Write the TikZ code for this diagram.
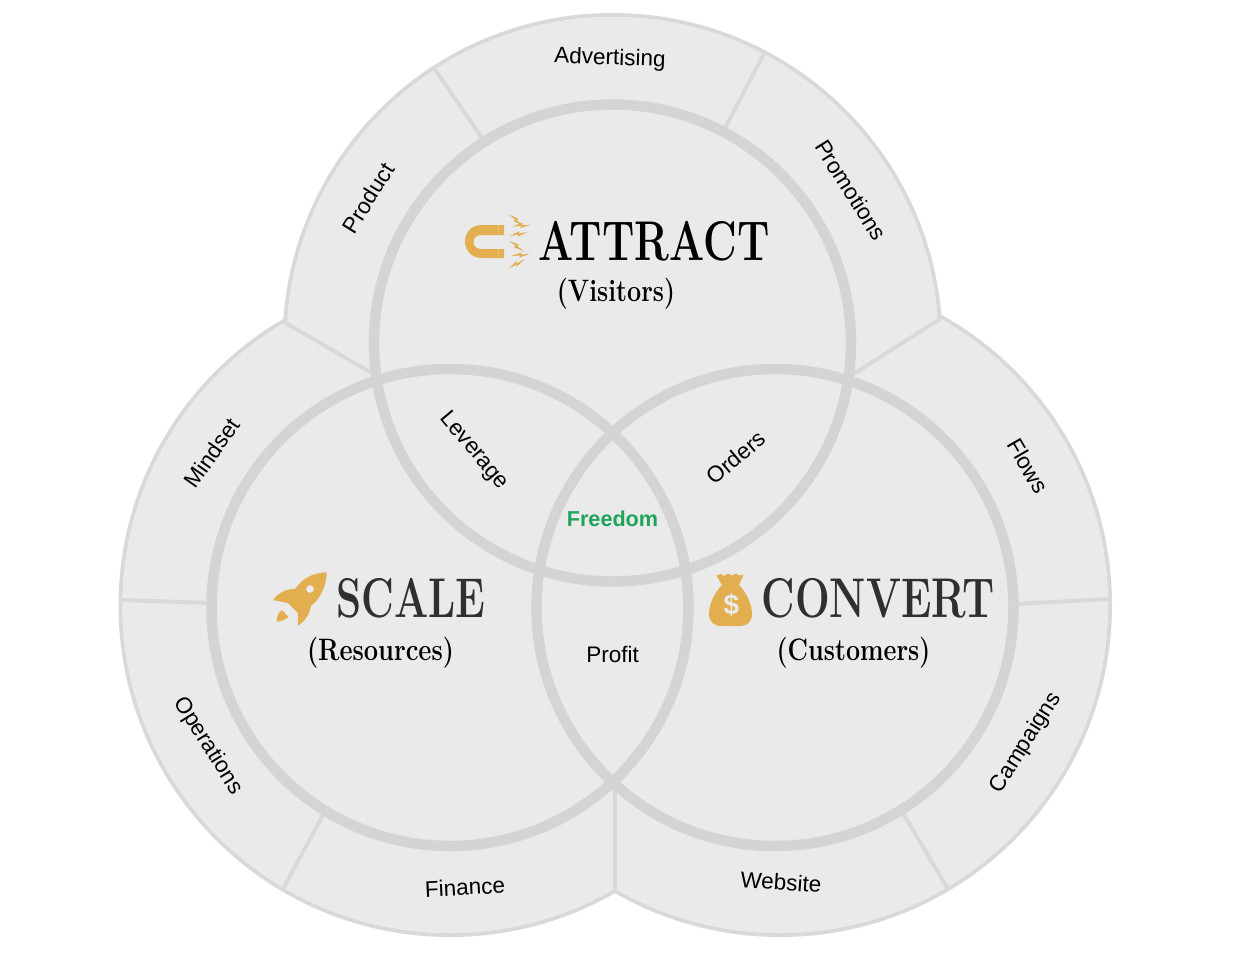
\documentclass[tikz,border=0pt]{standalone}
\usepackage{fontspec}
\setmainfont{Liberation Sans}
\newfontfamily\headfont{Latin Modern Roman}
\definecolor{discfill}{HTML}{EAEAEA}
\definecolor{outerline}{HTML}{D9D9D9}
\definecolor{innerline}{HTML}{D4D4D4}
\definecolor{gold}{HTML}{E3AE50}
\definecolor{goldlight}{HTML}{EBC27C}
\definecolor{headgrey}{HTML}{2F2F2F}
\definecolor{freedomgreen}{HTML}{1FA55B}
\tikzset{
  x=1pt,y=-1pt,
  innerring/.style={draw=innerline,line width=10.5pt},
  divider/.style={draw=outerline,line width=4pt},
  lab/.style={font=\fontsize{22.5}{26}\selectfont,inner sep=0pt,text=black},
  headlab/.style={font=\fontsize{56}{60}\headfont\bfseries,inner sep=0pt,anchor=base},
  sublab/.style={font=\fontsize{31}{34}\headfont\bfseries,inner sep=0pt,anchor=base,text=black},
  icon/.style={fill=gold,draw=none},
}
\newcommand{\boltat}[3]{%
  \fill[gold,shift={(#1,#2)},rotate=#3] (-9.5,-0.4)--(1.5,-2.4)--(0.5,-0.3)--(9.5,0.4)--(-1.5,2.4)--(-0.5,0.3)--cycle;}
\begin{document}
\begin{tikzpicture}
\useasboundingbox (0,0) rectangle (1250,966);
\fill[white] (0,0) rectangle (1250,966);
% centres of the inner rings
\coordinate (ct) at (612.5,343);
\coordinate (cl) at (450,607.5);
\coordinate (cr) at (775,607.5);
% centres of the outer lobes
\coordinate (ot) at (612.5,343);
\coordinate (ol) at (450,605.5);
\coordinate (or) at (780,605);
% outer union
\draw[outerline,line width=4pt] (ot) circle[radius=328];
\draw[outerline,line width=4pt] (ol) circle[radius=329.5];
\draw[outerline,line width=4pt] (or) circle[radius=330];
\fill[discfill] (ot) circle[radius=326];
\fill[discfill] (ol) circle[radius=327.5];
\fill[discfill] (or) circle[radius=328];
% dividers
\coordinate (d1a) at (284,322);  \coordinate (d1b) at (375,375);
\coordinate (d2a) at (940,319);  \coordinate (d2b) at (852,375);
\coordinate (d3a) at (121,600);  \coordinate (d3b) at (212,603);
\coordinate (d4a) at (1109,599); \coordinate (d4b) at (1015,604);
\coordinate (d5a) at (434,68);   \coordinate (d5b) at (482,138);
\coordinate (d6a) at (765,52);   \coordinate (d6b) at (725,128);
\coordinate (d7a) at (323,815);  \coordinate (d7b) at (283,889);
\coordinate (d8a) at (904,815);  \coordinate (d8b) at (948,889);
\coordinate (d9a) at (615,785);  \coordinate (d9b) at (615,891);
\foreach \i in {1,...,9}{\draw[divider] (d\i a) -- (d\i b);}
% inner rings
\foreach \c in {ct,cl,cr}{\draw[innerring] (\c) circle[radius=238.5];}
% segment labels
\node[lab,rotate=-2] (advertising) at (610,59) {Advertising};
\node[lab,rotate=58] (product) at (368,198) {Product};
\node[lab,rotate=-58] (promotions) at (851,190) {Promotions};
\node[lab,rotate=55] (mindset) at (212,453) {Mindset};
\node[lab,rotate=-60] (flows) at (1028,466) {Flows};
\node[lab,rotate=-58] (operations) at (208,746) {Operations};
\node[lab,rotate=58] (campaigns) at (1026,743) {Campaigns};
\node[lab,rotate=3] (finance) at (465,887) {Finance};
\node[lab,rotate=-4] (website) at (781,882) {Website};
\node[lab,rotate=-50] (leverage) at (474,451) {Leverage};
\node[lab,rotate=40] (orders) at (736,457) {Orders};
\node[lab] (profit) at (612.5,654) {Profit};
\node[lab,font=\fontsize{21.6}{26}\selectfont\bfseries,text=freedomgreen] (freedom) at (612.5,519) {Freedom};
% headings
\node[headlab,text=black,xscale=0.74] (attract) at (654,260) {ATTRACT};
\node[sublab,xscale=0.81] (visitors) at (616,301) {(Visitors)};
\node[headlab,text=headgrey,xscale=0.72] (scale) at (411,617) {SCALE};
\node[sublab,xscale=0.82] (resources) at (380.5,660) {(Resources)};
\node[headlab,text=headgrey,xscale=0.735] (convert) at (878,617) {CONVERT};
\node[sublab,xscale=0.81] (customers) at (853.5,660) {(Customers)};
% magnet
\fill[gold] (504,225) -- (482,225) .. controls (471,225) and (465,233) .. (465,241.5) .. controls (465,250) and (471,258) .. (482,258) -- (504,258) -- (504,249) -- (482,249) .. controls (476,249) and (473.5,246) .. (473.5,242) .. controls (473.5,238) and (476,235) .. (482,235) -- (504,235) -- cycle;
\fill[goldlight] (497.5,225) rectangle (499,235);
\fill[goldlight] (497.5,249) rectangle (499,258);
\boltat{516}{220}{-35}
\boltat{521.5}{225.5}{8}
\boltat{518.5}{234}{15}
\boltat{516.5}{246}{-32}
\boltat{520.5}{255}{10}
\boltat{516.5}{264}{33}
% rocket
\fill[icon,even odd rule] (326.7,572.3) .. controls (316,572.5) and (308,576) .. (301,582) -- (295,589) .. controls (285,589) and (277,594) .. (273,600) -- (288,603) -- (298,613) -- (297.7,625.7) .. controls (304,622) and (309,616) .. (311,606) -- (317,600) .. controls (323,592) and (326.5,583) .. (326.7,572.3) -- cycle (310,589) circle[radius=4];
\fill[icon] (276.7,621.7) .. controls (276.5,616) and (278.5,612.5) .. (282,610) -- (288.5,617) .. controls (285,620) and (281,621.5) .. (276.7,621.7) -- cycle;
% money bag
\fill[icon] (716.5,575.5) -- (721,574) -- (724,576) -- (728,573.5) -- (732,575.5) -- (736,573.5) -- (739.5,575.5) -- (743.5,574.5) -- (739,585) .. controls (746,592) and (752,604) .. (752,614) .. controls (752,622) and (747,626) .. (740,626) -- (722,626) .. controls (714,626) and (709,622) .. (709,614) .. controls (709,604) and (715,592) .. (722,585) -- cycle;
\node[inner sep=0pt,text=discfill,font=\fontsize{28}{30}\selectfont\bfseries] (dollar) at (731.5,605) {\$};
\end{tikzpicture}
\end{document}
